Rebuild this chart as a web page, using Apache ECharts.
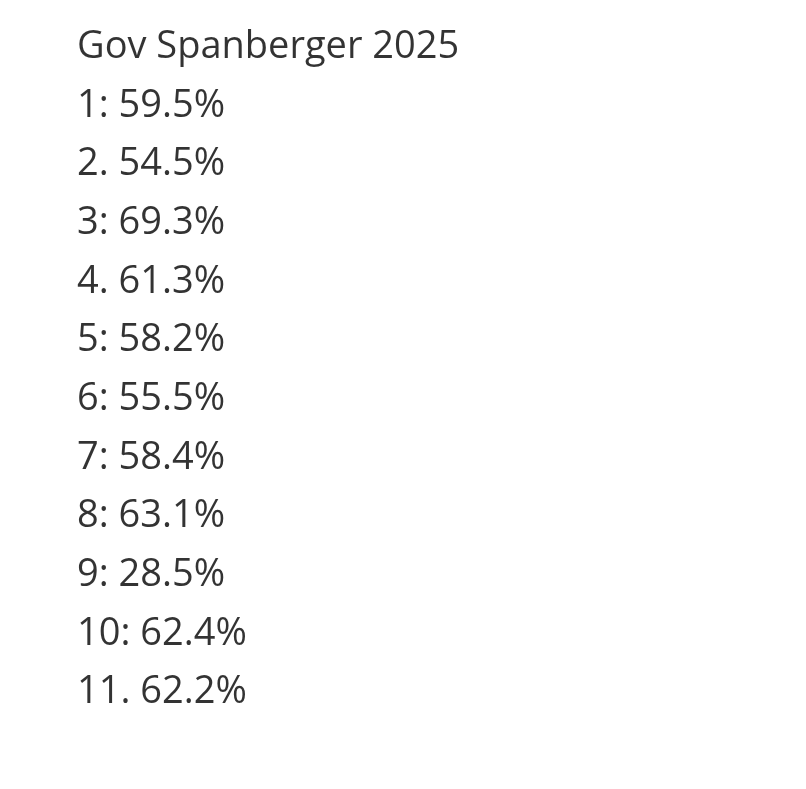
<!DOCTYPE html>
<html><head><meta charset="utf-8">
<script src="https://cdn.jsdelivr.net/npm/echarts@6/dist/echarts.min.js"></script>
<style>html,body{margin:0;background:#fff}#c{width:806px;height:789px}</style>
</head><body><div id="c"></div>
<script>
const title = "Gov Spanberger 2025";
const districts = ["1","2","3","4","5","6","7","8","9","10","11"];
const separators = [":",".",":",".",":",":",":",":",":",":","."];
const values = [59.5,54.5,69.3,61.3,58.2,55.5,58.4,63.1,28.5,62.4,62.2];

const lines = [title].concat(districts.map((d,i)=>d+separators[i]+" "+values[i].toFixed(1)+"%"));
const chart = echarts.init(document.getElementById('c'));
chart.setOption({
  animation:false,
  backgroundColor:'#fff',
  grid:{left:77,top:18,width:600,height:704},
  xAxis:{type:'value',min:0,max:1,show:false},
  yAxis:{type:'category',data:lines,inverse:true,show:false},
  series:[{type:'scatter',symbolSize:0,
    data:lines.map(l=>[0,l]),
    emphasis:{disabled:true},
    label:{show:true,position:'right',distance:0,formatter:p=>p.value[1],
      color:'#000',fontSize:38,fontFamily:'Open Sans, Liberation Sans, sans-serif'}}]
});
</script></body></html>
